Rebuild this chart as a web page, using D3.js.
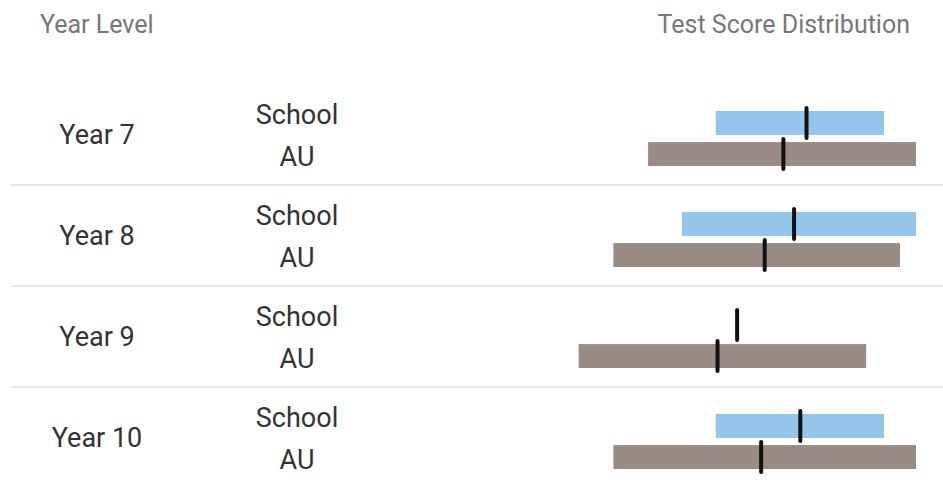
<!DOCTYPE html>
<html>
<head>
<meta charset="utf-8">
<script src="https://cdn.jsdelivr.net/npm/d3@7"></script>
<style>
  body { margin: 0; background: #fff; }
  svg { display: block; font-family: Roboto, "Noto Sans", sans-serif; }
</style>
</head>
<body>
<svg id="my_chart" width="943" height="484"></svg>
<script>
// Data (arbitrary score units)
var years = ["Year 7", "Year 8", "Year 9", "Year 10"];
var groups = ["School", "AU"];
// min / max of each distribution, null = no bar drawn
var school_min  = [525, 487, null, 525];
var school_max  = [714, 750, null, 714];
var school_mean = [627, 613, 549, 620];
var au_min  = [449, 410, 371, 410];
var au_max  = [750, 732, 694, 750];
var au_mean = [601, 580, 527, 576];

var headers = ["Year Level", "Test Score Distribution"];

var svg = d3.select("#my_chart"),
  width = +svg.attr("width"),
  height = +svg.attr("height");

// build rows from the arrays
var rows = years.map(function(y, i) {
  return {
    year: y,
    bars: [
      { group: "School", min: school_min[i], max: school_max[i], mean: school_mean[i] },
      { group: "AU", min: au_min[i], max: au_max[i], mean: au_mean[i] }
    ]
  };
});

// scales
var x = d3.scaleLinear()
  .domain([350, 750])
  .range([560, 916]);

var yRow = d3.scaleBand()
  .domain(years)
  .range([84, 488]);

var yBar = d3.scaleBand()
  .domain(groups)
  .range([27, 82])
  .paddingInner(0.23);

var yLabel = d3.scaleBand()
  .domain(groups)
  .range([10, 94]);

var colors = { "School": "#93c6ea", "AU": "#9a8c84" };

// headers
svg.append("text")
  .attr("x", 40)
  .attr("y", 33)
  .attr("font-size", 25)
  .attr("fill", "#777")
  .text(headers[0]);
svg.append("text")
  .attr("x", 910)
  .attr("y", 33)
  .attr("text-anchor", "end")
  .attr("font-size", 25)
  .attr("fill", "#777")
  .text(headers[1]);

// separators between rows
svg.append("g")
  .selectAll("line")
  .data(years.slice(1))
  .enter()
  .append("line")
    .attr("x1", 11)
    .attr("x2", width)
    .attr("y1", function(d) { return yRow(d); })
    .attr("y2", function(d) { return yRow(d); })
    .style("stroke", "#e6e6e6")
    .style("stroke-width", 2);

var row = svg.append("g")
  .selectAll("g")
  .data(rows)
  .enter()
  .append("g")
    .attr("transform", function(d) { return "translate(0," + yRow(d.year) + ")"; });

// year label
row.append("text")
  .attr("x", 97)
  .attr("y", yRow.bandwidth() / 2)
  .attr("dy", "0.35em")
  .attr("text-anchor", "middle")
  .attr("font-size", 27)
  .attr("fill", "#333")
  .text(function(d) { return d.year; });

// group labels
row.selectAll(".grp")
  .data(groups)
  .enter()
  .append("text")
    .attr("class", "grp")
    .attr("x", 297)
    .attr("y", function(g) { return yLabel(g) + yLabel.bandwidth() / 2; })
    .attr("dy", "0.35em")
    .attr("text-anchor", "middle")
    .attr("font-size", 27)
    .attr("fill", "#333")
    .text(function(g) { return g; });

// range bars
row.selectAll(".bar")
  .data(function(d) { return d.bars.filter(function(b) { return b.min != null; }); })
  .enter()
  .append("rect")
    .attr("class", "bar")
    .attr("x", function(b) { return x(b.min); })
    .attr("width", function(b) { return x(b.max) - x(b.min); })
    .attr("y", function(b) { return yBar(b.group); })
    .attr("height", yBar.bandwidth())
    .attr("fill", function(b) { return colors[b.group]; });

// mean ticks
row.selectAll(".mean")
  .data(function(d) { return d.bars; })
  .enter()
  .append("line")
    .attr("class", "mean")
    .attr("x1", function(b) { return x(b.mean); })
    .attr("x2", function(b) { return x(b.mean); })
    .attr("y1", function(b) { return yBar(b.group) - 3; })
    .attr("y2", function(b) { return yBar(b.group) + yBar.bandwidth() + 3; })
    .style("stroke", "#111")
    .style("stroke-width", 4)
    .style("stroke-linecap", "round");
</script>
</body>
</html>
